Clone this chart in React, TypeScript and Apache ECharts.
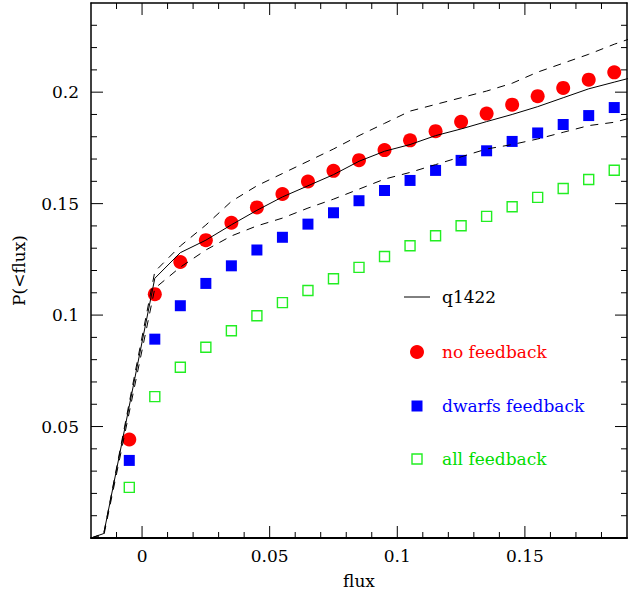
import React, { useEffect, useRef } from "react";
import * as echarts from "echarts";

// x positions of the simulated bins
const binX = [-0.005, 0.005, 0.015, 0.025, 0.035, 0.045, 0.055, 0.065, 0.075, 0.085, 0.095, 0.105, 0.115, 0.125, 0.135, 0.145, 0.155, 0.165, 0.175, 0.185];
const noFeedback = [0.0442, 0.1094, 0.1238, 0.1336, 0.1414, 0.1483, 0.1543, 0.1599, 0.1647, 0.1695, 0.1740, 0.1784, 0.1825, 0.1867, 0.1904, 0.1944, 0.1982, 0.2019, 0.2056, 0.2089];
const dwarfsFeedback = [0.0348, 0.0892, 0.1042, 0.1142, 0.1221, 0.1292, 0.1349, 0.1408, 0.1459, 0.1513, 0.1559, 0.1604, 0.1649, 0.1694, 0.1737, 0.1779, 0.1817, 0.1855, 0.1895, 0.1931];
const allFeedback = [0.0227, 0.0634, 0.0766, 0.0856, 0.0930, 0.0997, 0.1056, 0.1110, 0.1163, 0.1214, 0.1263, 0.1311, 0.1356, 0.1401, 0.1443, 0.1486, 0.1528, 0.1568, 0.1608, 0.1650];

// observed q1422 curve and its bounds
const lineX = [-0.02, -0.015, 0.005, 0.015, 0.025, 0.035, 0.045, 0.055, 0.065, 0.075, 0.085, 0.095, 0.105, 0.115, 0.125, 0.135, 0.145, 0.155, 0.165, 0.175, 0.185, 0.195];
const q1422 = [0, 0.002, 0.1165, 0.128, 0.1336, 0.1405, 0.147, 0.153, 0.158, 0.163, 0.169, 0.1735, 0.1765, 0.1805, 0.1835, 0.1868, 0.190, 0.1935, 0.1975, 0.2015, 0.2045, 0.2075];
const q1422Upper = [0, 0.002, 0.1195, 0.131, 0.1404, 0.151, 0.158, 0.1635, 0.169, 0.1745, 0.1805, 0.186, 0.1915, 0.1945, 0.1975, 0.2005, 0.204, 0.209, 0.213, 0.217, 0.2215, 0.2255];
const q1422Lower = [0, 0.001, 0.112, 0.1215, 0.1292, 0.1355, 0.140, 0.1435, 0.148, 0.152, 0.1565, 0.161, 0.164, 0.1675, 0.171, 0.1745, 0.1765, 0.179, 0.182, 0.185, 0.1865, 0.1895];

// axes
const xMin = -0.02;
const xMax = 0.19;
const yMin = 0;
const yMax = 0.24;
const xMajorTicks = [0, 0.05, 0.1, 0.15];
const xMinorTicks = [-0.01, 0.01, 0.02, 0.03, 0.04, 0.06, 0.07, 0.08, 0.09, 0.11, 0.12, 0.13, 0.14, 0.16, 0.17, 0.18];
const yMajorTicks = [0.05, 0.1, 0.15, 0.2];
const yMinorTicks = [0.01, 0.02, 0.03, 0.04, 0.06, 0.07, 0.08, 0.09, 0.11, 0.12, 0.13, 0.14, 0.16, 0.17, 0.18, 0.19, 0.21, 0.22, 0.23];

const FONT = "DejaVu Serif";
const MAJOR_LEN = 12;
const MINOR_LEN = 6;
const WIDTH = 628;
const HEIGHT = 598;
const GRID = { left: 91, right: 1, top: 3, bottom: 60 };

function pairs(xs: number[], ys: number[]) {
  return xs.map((x, i) => [x, ys[i]]);
}

export default function App() {
  const ref = useRef<HTMLDivElement>(null);
  useEffect(() => {
    if (!ref.current) return;
    const chart = echarts.init(ref.current, null, { renderer: "svg" });
    const mkX = (pos: string, labels: boolean, lw: number) => ({
      type: "value",
      position: pos,
      min: xMin,
      max: xMax,
      axisLine: { show: true, onZero: false, lineStyle: { color: "#000", width: lw } },
      splitLine: { show: false },
      axisTick: { show: false },
      axisLabel: labels
        ? { show: true, customValues: xMajorTicks, margin: 9, color: "#000", fontFamily: FONT, fontSize: 17 }
        : { show: false },
      ...(labels
        ? { name: "flux", nameLocation: "middle", nameGap: 34, nameTextStyle: { color: "#000", fontFamily: FONT, fontSize: 17 } }
        : {}),
    });
    const mkY = (pos: string, labels: boolean) => ({
      type: "value",
      position: pos,
      min: yMin,
      max: yMax,
      axisLine: { show: true, onZero: false, lineStyle: { color: "#000", width: 1.5 } },
      splitLine: { show: false },
      axisTick: { show: false },
      axisLabel: labels
        ? { show: true, customValues: yMajorTicks, margin: 12, color: "#000", fontFamily: FONT, fontSize: 17 }
        : { show: false },
      ...(labels
        ? { name: "P(<flux)", nameLocation: "middle", nameGap: 64, nameTextStyle: { color: "#000", fontFamily: FONT, fontSize: 17 } }
        : {}),
    });

    const legendFont = { fontFamily: FONT, fontSize: 17 };
    const legendGraphic: any[] = [
      { type: "line", shape: { x1: 404, y1: 297, x2: 430, y2: 297 }, style: { stroke: "#000", lineWidth: 1 } },
      { type: "text", x: 442, y: 297, style: { text: "q1422", fill: "#000", verticalAlign: "middle", ...legendFont } },
      { type: "circle", shape: { cx: 417, cy: 352, r: 7 }, style: { fill: "#ff0000" } },
      { type: "text", x: 442, y: 352, style: { text: "no feedback", fill: "#ff0000", verticalAlign: "middle", ...legendFont } },
      { type: "rect", shape: { x: 411.5, y: 400.5, width: 11, height: 11 }, style: { fill: "#0000ff" } },
      { type: "text", x: 442, y: 406, style: { text: "dwarfs feedback", fill: "#0000ff", verticalAlign: "middle", ...legendFont } },
      { type: "rect", shape: { x: 412, y: 454, width: 10, height: 10 }, style: { fill: "none", stroke: "#22ee22", lineWidth: 1.4 } },
      { type: "text", x: 442, y: 459, style: { text: "all feedback", fill: "#00dd00", verticalAlign: "middle", ...legendFont } },
    ];

    // tick marks drawn as broken line segments in data space (pixel length -> data length)
    const plotW = WIDTH - GRID.left - GRID.right;
    const plotH = HEIGHT - GRID.top - GRID.bottom;
    const dyPerPx = (yMax - yMin) / plotH;
    const dxPerPx = (xMax - xMin) / plotW;
    const xTickData: any[] = [];
    const yTickData: any[] = [];
    const addX = (v: number, len: number) => {
      const d = len * dyPerPx;
      xTickData.push([v, yMin], [v, yMin + d], [v, "-"]);
      xTickData.push([v, yMax], [v, yMax - d], [v, "-"]);
    };
    const addY = (v: number, len: number) => {
      const d = len * dxPerPx;
      yTickData.push([xMin, v], [xMin + d, v], ["-", v]);
      yTickData.push([xMax, v], [xMax - d, v], ["-", v]);
    };
    xMajorTicks.forEach((v) => addX(v, MAJOR_LEN));
    xMinorTicks.forEach((v) => addX(v, MINOR_LEN));
    yMajorTicks.forEach((v) => addY(v, MAJOR_LEN));
    yMinorTicks.forEach((v) => addY(v, MINOR_LEN));
    const tickLine = (name: string, data: any[]) => ({
      name,
      type: "line",
      data,
      symbol: "none",
      silent: true,
      connectNulls: false,
      clip: false,
      lineStyle: { color: "#000", width: 1 },
      z: 3,
    });

    chart.setOption({
      animation: false,
      backgroundColor: "#fff",
      grid: { ...GRID },
      xAxis: [mkX("bottom", true, 2), mkX("top", false, 1.5)],
      yAxis: [mkY("left", true), mkY("right", false)],
      series: [
        tickLine("x ticks", xTickData),
        tickLine("y ticks", yTickData),
        {
          name: "q1422",
          type: "line",
          data: pairs(lineX, q1422),
          symbol: "none",
          lineStyle: { color: "#000", width: 1 },
        },
        {
          name: "q1422 upper",
          type: "line",
          data: pairs(lineX, q1422Upper),
          symbol: "none",
          lineStyle: { color: "#000", width: 1, type: [8, 7] },
        },
        {
          name: "q1422 lower",
          type: "line",
          data: pairs(lineX, q1422Lower),
          symbol: "none",
          lineStyle: { color: "#000", width: 1, type: [8, 7] },
        },
        {
          name: "all feedback",
          type: "scatter",
          data: pairs(binX, allFeedback),
          symbol: "rect",
          symbolSize: 10,
          itemStyle: { color: "rgba(0,0,0,0)", borderColor: "#22ee22", borderWidth: 1.4, opacity: 1 },
        },
        {
          name: "dwarfs feedback",
          type: "scatter",
          data: pairs(binX, dwarfsFeedback),
          symbol: "rect",
          symbolSize: 11,
          itemStyle: { color: "#0000ff", opacity: 1 },
        },
        {
          name: "no feedback",
          type: "scatter",
          data: pairs(binX, noFeedback),
          symbol: "circle",
          symbolSize: 14,
          itemStyle: { color: "#ff0000", opacity: 1 },
        },
      ],
      graphic: legendGraphic,
    });

    return () => chart.dispose();
  }, []);
  return (
    <div
      ref={ref}
      style={{ position: "fixed", left: 0, top: 0, width: WIDTH, height: HEIGHT, background: "#fff" }}
    />
  );
}
